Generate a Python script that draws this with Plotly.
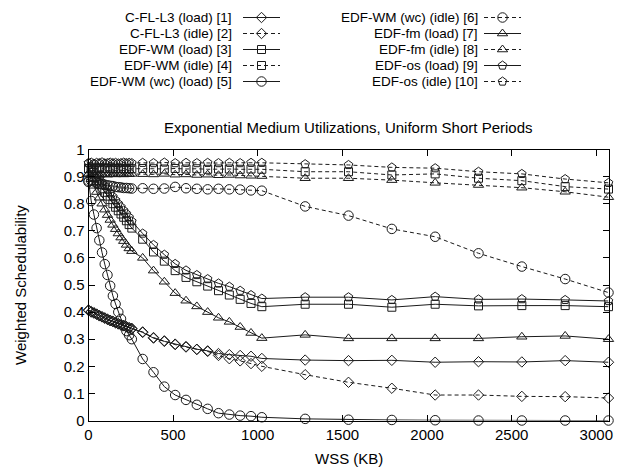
import plotly.graph_objects as go

# ---------------- data ----------------
wss = [0, 16, 32, 48, 64, 80, 96, 112, 128, 144, 160, 176, 192, 208, 224, 240, 256,
       320, 384, 448, 512, 576, 640, 704, 768, 832, 896, 960, 1024,
       1280, 1536, 1792, 2048, 2304, 2560, 2816, 3072]

cfl_load = [0.408, 0.402, 0.398, 0.393, 0.388, 0.383, 0.379, 0.374, 0.370, 0.366, 0.362, 0.358, 0.354, 0.350, 0.346, 0.343, 0.340,
            0.325, 0.304, 0.292, 0.282, 0.273, 0.263, 0.257, 0.247, 0.243, 0.240, 0.237, 0.229,
            0.223, 0.221, 0.222, 0.215, 0.217, 0.216, 0.221, 0.215]
cfl_idle = [0.406, 0.400, 0.396, 0.392, 0.386, 0.382, 0.377, 0.373, 0.368, 0.365, 0.360, 0.356, 0.352, 0.349, 0.345, 0.341, 0.338,
            0.327, 0.306, 0.294, 0.280, 0.271, 0.262, 0.255, 0.240, 0.228, 0.220, 0.210, 0.200,
            0.169, 0.141, 0.119, 0.094, 0.094, 0.089, 0.088, 0.083]
wm_load = [0.930, 0.915, 0.900, 0.885, 0.870, 0.855, 0.842, 0.828, 0.815, 0.800, 0.787, 0.774, 0.762, 0.750, 0.737, 0.723, 0.710,
           0.669, 0.622, 0.588, 0.553, 0.528, 0.512, 0.496, 0.479, 0.463, 0.447, 0.432, 0.420,
           0.429, 0.429, 0.418, 0.429, 0.423, 0.424, 0.424, 0.420]
wm_idle = [0.930, 0.932, 0.928, 0.930, 0.933, 0.929, 0.931, 0.930, 0.932, 0.928, 0.930, 0.931, 0.929, 0.930, 0.928, 0.930, 0.929,
           0.930, 0.929, 0.928, 0.930, 0.928, 0.929, 0.927, 0.928, 0.928, 0.927, 0.928, 0.927,
           0.918, 0.918, 0.906, 0.910, 0.894, 0.885, 0.863, 0.854]
wmwc_load = [0.885, 0.810, 0.760, 0.710, 0.665, 0.620, 0.577, 0.537, 0.497, 0.460, 0.430, 0.400, 0.375, 0.350, 0.330, 0.315, 0.300,
             0.227, 0.178, 0.125, 0.094, 0.076, 0.058, 0.043, 0.027, 0.022, 0.018, 0.016, 0.012,
             0.006, 0.003, 0.002, 0.001, 0.000, 0.000, 0.000, 0.000]
wmwc_idle = [0.880, 0.885, 0.882, 0.878, 0.875, 0.872, 0.870, 0.868, 0.866, 0.865, 0.862, 0.861, 0.860, 0.858, 0.858, 0.857, 0.856,
             0.857, 0.855, 0.856, 0.862, 0.857, 0.855, 0.853, 0.855, 0.853, 0.852, 0.849, 0.848,
             0.790, 0.756, 0.707, 0.678, 0.617, 0.568, 0.522, 0.472]
fm_load = [0.910, 0.890, 0.866, 0.843, 0.822, 0.800, 0.778, 0.758, 0.740, 0.722, 0.706, 0.690, 0.675, 0.662, 0.648, 0.635, 0.625,
           0.600, 0.553, 0.512, 0.470, 0.442, 0.421, 0.400, 0.379, 0.364, 0.345, 0.323, 0.304,
           0.316, 0.303, 0.303, 0.303, 0.303, 0.309, 0.312, 0.300]
fm_idle = [0.910, 0.905, 0.908, 0.910, 0.906, 0.909, 0.910, 0.907, 0.909, 0.910, 0.908, 0.910, 0.909, 0.908, 0.910, 0.909, 0.910,
           0.909, 0.908, 0.910, 0.907, 0.908, 0.906, 0.907, 0.905, 0.906, 0.904, 0.903, 0.902,
           0.894, 0.894, 0.887, 0.877, 0.869, 0.859, 0.844, 0.824]
os_load = [0.950, 0.935, 0.921, 0.907, 0.893, 0.879, 0.866, 0.852, 0.839, 0.826, 0.813, 0.800, 0.788, 0.775, 0.763, 0.750, 0.735,
           0.690, 0.648, 0.612, 0.578, 0.554, 0.537, 0.522, 0.506, 0.494, 0.479, 0.463, 0.450,
           0.455, 0.455, 0.445, 0.457, 0.447, 0.448, 0.445, 0.441]
os_idle = [0.950, 0.952, 0.948, 0.951, 0.950, 0.953, 0.949, 0.950, 0.952, 0.950, 0.951, 0.949, 0.950, 0.952, 0.950, 0.951, 0.950,
           0.951, 0.950, 0.952, 0.950, 0.951, 0.950, 0.951, 0.950, 0.951, 0.950, 0.951, 0.951,
           0.946, 0.943, 0.934, 0.931, 0.918, 0.910, 0.891, 0.877]

series_names = ["C-FL-L3 (load) [1]", "C-FL-L3 (idle) [2]", "EDF-WM (load) [3]", "EDF-WM (idle) [4]",
                "EDF-WM (wc) (load) [5]", "EDF-WM (wc) (idle) [6]", "EDF-fm (load) [7]", "EDF-fm (idle) [8]",
                "EDF-os (load) [9]", "EDF-os (idle) [10]"]
series_values = [cfl_load, cfl_idle, wm_load, wm_idle, wmwc_load, wmwc_idle, fm_load, fm_idle, os_load, os_idle]

x_ticks = [0, 500, 1000, 1500, 2000, 2500, 3000]
y_ticks = [0, 0.1, 0.2, 0.3, 0.4, 0.5, 0.6, 0.7, 0.8, 0.9, 1]

# ---------------- styles / layout constants ----------------
symbols = ["diamond-open", "diamond-open", "square-open", "square-open", "circle-open", "circle-open",
           "triangle-up-open", "triangle-up-open", "pentagon-open", "pentagon-open"]
msizes = [8, 8, 8, 8, 9.5, 9.5, 9, 9, 9, 9]
DASH = "4px,3px"
LC = "#1a1a1a"
FONT = "Liberation Sans, Arial, sans-serif"

WIN_W, WIN_H = 631, 475
OFF = 8                       # default body margin of the html page
W, H = WIN_W - 2 * OFF, WIN_H - 2 * OFF
PL, PR, PT, PB = 88.5, 608.5, 149.5, 420.5  # plot area in window pixels


def fx(px):
    return (px - OFF) / W


def fy(py):
    return 1 - (py - OFF) / H


fig = go.Figure()
for i, (name, vals) in enumerate(zip(series_names, series_values)):
    fig.add_trace(go.Scatter(
        x=wss, y=vals, name=name, mode="lines+markers",
        line=dict(color=LC, width=1, dash=("solid" if i % 2 == 0 else DASH)),
        marker=dict(symbol=symbols[i], size=msizes[i], color=LC, line=dict(width=1, color=LC)),
        showlegend=False, xaxis="x", yaxis="y", cliponaxis=False))

# ---------------- manual gnuplot-style key ----------------
key_rows = [17.5, 33.5, 49.5, 65.5, 81.5]
key_cols = [(234, 243, 280), (480, 484, 521)]  # text right edge, sample start, sample end
annotations = []
for i, name in enumerate(series_names):
    col = i // 5
    row = i % 5
    tx, s0, s1 = key_cols[col]
    y = key_rows[row]
    fig.add_trace(go.Scatter(
        x=[s0, s1], y=[y, y], mode="lines", xaxis="x2", yaxis="y2", showlegend=False,
        line=dict(color=LC, width=1, dash=("solid" if i % 2 == 0 else DASH)), hoverinfo="skip"))
    fig.add_trace(go.Scatter(
        x=[(s0 + s1) / 2], y=[y], mode="markers", xaxis="x2", yaxis="y2", showlegend=False,
        marker=dict(symbol=symbols[i], size=msizes[i], color=LC, line=dict(width=1, color=LC)), hoverinfo="skip"))
    annotations.append(dict(x=tx, y=y, xref="x2", yref="y2", text=name, showarrow=False,
                            xanchor="right", yanchor="middle", font=dict(size=13.5, color="black", family=FONT)))

annotations.append(dict(x=fx(348.5), y=fy(127), xref="paper", yref="paper",
                        text="Exponential Medium Utilizations, Uniform Short Periods", showarrow=False,
                        xanchor="center", yanchor="middle", font=dict(size=15, color="black", family=FONT)))
annotations.append(dict(x=fx(348.5), y=fy(458), xref="paper", yref="paper", text="WSS (KB)",
                        showarrow=False, xanchor="center", yanchor="middle",
                        font=dict(size=15, color="black", family=FONT)))
annotations.append(dict(x=fx(20), y=fy(285), xref="paper", yref="paper", text="Weighted Schedulability",
                        showarrow=False, textangle=-90, xanchor="center", yanchor="middle",
                        font=dict(size=15, color="black", family=FONT)))

fig.update_layout(
    width=W, height=H, margin=dict(l=0, r=0, t=0, b=0, autoexpand=False),
    paper_bgcolor="white", plot_bgcolor="rgba(0,0,0,0)",
    font=dict(family=FONT, size=14, color="black"),
    xaxis=dict(domain=[fx(PL), fx(PR)], range=[0, 3072], tickvals=x_ticks, automargin=False,
               ticks="inside", ticklen=6, tickcolor="black", mirror="ticks", showline=True,
               linecolor="black", linewidth=1, showgrid=False, zeroline=False,
               tickfont=dict(size=15), anchor="y"),
    yaxis=dict(domain=[fy(PB), fy(PT)], range=[0, 1], tickvals=y_ticks, automargin=False,
               ticks="inside", ticklen=6, tickcolor="black", mirror="ticks", showline=True,
               linecolor="black", linewidth=1, showgrid=False, zeroline=False,
               tickfont=dict(size=15), anchor="x"),
    xaxis2=dict(domain=[0, 1], range=[OFF, OFF + W], visible=False, anchor="y2", automargin=False),
    yaxis2=dict(domain=[0, 1], range=[OFF + H, OFF], visible=False, anchor="x2", automargin=False),
    annotations=annotations,
)

fig.write_html("out.html")
